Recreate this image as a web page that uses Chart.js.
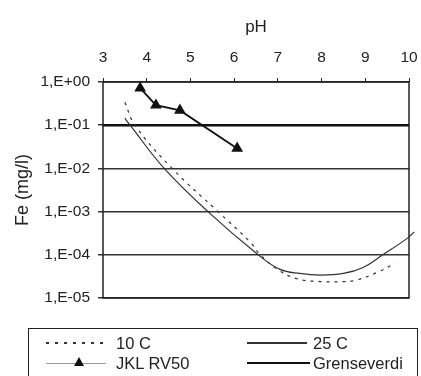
<!DOCTYPE html>
<html><head><meta charset="utf-8">
<script src="https://cdn.jsdelivr.net/npm/chart.js@4"></script>
<style>
html,body{margin:0;padding:0;background:#fff;}
#wrap{position:relative;width:421px;height:376px;overflow:hidden;}
#c{position:absolute;left:0;top:0;}
#legend{position:absolute;left:28px;top:328px;width:390px;height:60px;border:1.5px solid #222;box-sizing:border-box;font-family:"Liberation Sans",Arial,sans-serif;font-size:16.5px;color:#222;}
.lbl{position:absolute;line-height:20px;white-space:nowrap;}
.smp{position:absolute;width:60px;}
.tri{position:absolute;width:0;height:0;border-left:5px solid transparent;border-right:5px solid transparent;border-bottom:9px solid #111;}
</style></head>
<body>
<div id="wrap">
<canvas id="c" width="421" height="376"></canvas>
<div id="legend"></div>
</div>
<script>
// ---- data ----
const xTicks = [3, 4, 5, 6, 7, 8, 9, 10];
const yTicks = [1, 0.1, 0.01, 0.001, 0.0001, 0.00001];
const seriesNames = ['10 C', '25 C', 'JKL RV50', 'Grenseverdi'];
const xTitle = 'pH';
const yTitle = 'Fe (mg/l)';

const pH10 = [3.5, 3.73, 4.58, 5.63, 6.36, 6.6, 7.0, 7.43, 7.97, 8.5, 8.8, 9.27, 9.68];
const fe10 = [0.34, 0.1, 0.01, 0.001, 0.0002, 0.0001, 0.000045, 0.000028, 0.000024, 0.000024, 0.000026, 0.000039, 0.000063];

const pH25 = [3.5, 3.62, 4.4, 5.4, 6.55, 7.05, 7.5, 7.97, 8.5, 8.95, 9.4, 9.96, 10.12];
const fe25 = [0.145, 0.1, 0.01, 0.001, 0.0001, 0.000046, 0.000037, 0.000034, 0.000037, 0.000051, 0.0001, 0.00024, 0.00034];

const pHJKL = [3.85, 4.21, 4.76, 6.07];
const feJKL = [0.72, 0.29, 0.22, 0.029];

const pHLimit = [3, 10];
const feLimit = [0.1, 0.1];

const pts = (xs, ys) => xs.map((x, i) => ({x, y: ys[i]}));
const FONT = '"Liberation Sans", Arial, sans-serif';

const frame = {
  id: 'frame',
  beforeDatasetsDraw(chart) {
    const a = chart.chartArea, ctx = chart.ctx;
    ctx.save();
    ctx.strokeStyle = '#222';
    ctx.lineWidth = 1.5;
    ctx.strokeRect(a.left, a.top, a.right - a.left, a.bottom - a.top);
    ctx.restore();
  }
};

new Chart(document.getElementById('c'), {
  type: 'line',
  data: {
    datasets: [
      {label: seriesNames[0], data: pts(pH10, fe10), borderColor: '#333', borderWidth: 1.2, borderDash: [3, 5], pointRadius: 0, tension: 0.4, fill: false},
      {label: seriesNames[1], data: pts(pH25, fe25), borderColor: '#333', borderWidth: 1.2, pointRadius: 0, tension: 0.4, fill: false, clip: false},
      {label: seriesNames[2], data: pts(pHJKL, feJKL), borderColor: '#111', borderWidth: 1.8, pointStyle: 'triangle', pointRadius: 5, pointBackgroundColor: '#111', pointBorderColor: '#111', tension: 0, fill: false},
      {label: seriesNames[3], data: pts(pHLimit, feLimit), borderColor: '#111', borderWidth: 2.5, pointRadius: 0, tension: 0, fill: false}
    ]
  },
  options: {
    responsive: false,
    animation: false,
    events: [],
    layout: {padding: {left: 0, right: 0, top: 0, bottom: 78}},
    plugins: {legend: {display: false}, tooltip: {enabled: false}},
    scales: {
      x: {
        type: 'linear', position: 'top', min: 3, max: 10,
        afterBuildTicks: s => { s.ticks = xTicks.map(v => ({value: v})); },
        afterFit: s => { s.height = 82; s.paddingRight = 12; },
        ticks: {color: '#222', font: {family: FONT, size: 15.5}, padding: 11, maxRotation: 0},
        grid: {display: true, drawOnChartArea: false, tickLength: 4, color: '#222', lineWidth: 1},
        border: {display: false},
        title: {display: true, text: xTitle, color: '#222', font: {family: FONT, size: 17}, padding: {top: 17, bottom: 0}}
      },
      y: {
        type: 'logarithmic', min: 0.00001, max: 1,
        afterBuildTicks: s => { s.ticks = yTicks.map(v => ({value: v})); },
        afterFit: s => { s.width = 103; },
        ticks: {
          color: '#222', font: {family: FONT, size: 15.5}, padding: 8,
          callback: v => { const e = Math.round(Math.log10(v)); return '1,E' + (e >= 0 ? '+' : '-') + String(Math.abs(e)).padStart(2, '0'); }
        },
        grid: {color: '#333', lineWidth: 1.5, tickLength: 5},
        border: {display: false},
        title: {display: true, text: yTitle, color: '#222', font: {family: FONT, size: 18}, padding: {top: 12, bottom: 0}}
      }
    }
  },
  plugins: [frame]
});

// ---- legend (HTML text) ----
const lg = document.getElementById('legend');
const items = [
  {name: seriesNames[0], sx: 17, tx: 87, cy: 14, kind: 'dot'},
  {name: seriesNames[1], sx: 218, tx: 284, cy: 14, kind: 'thin'},
  {name: seriesNames[2], sx: 17, tx: 87, cy: 34, kind: 'tri'},
  {name: seriesNames[3], sx: 218, tx: 284, cy: 34, kind: 'thick'}
];
items.forEach(it => {
  const s = document.createElement('div');
  s.className = 'smp';
  let h = 1.3;
  if (it.kind === 'dot') { s.style.background = 'repeating-linear-gradient(to right,#333 0 3px,transparent 3px 9px)'; }
  if (it.kind === 'thin') { s.style.background = '#333'; }
  if (it.kind === 'thick') { h = 2.5; s.style.background = '#111'; s.style.width = '63px'; }
  if (it.kind === 'tri') { s.style.background = '#999'; h = 1; }
  s.style.height = h + 'px';
  s.style.left = it.sx + 'px';
  s.style.top = (it.cy - h / 2) + 'px';
  lg.appendChild(s);
  if (it.kind === 'tri') {
    const t = document.createElement('div');
    t.className = 'tri';
    t.style.left = (it.sx + 28) + 'px';
    t.style.top = (it.cy - 6) + 'px';
    lg.appendChild(t);
  }
  const l = document.createElement('div');
  l.className = 'lbl';
  l.textContent = it.name;
  l.style.left = it.tx + 'px';
  l.style.top = (it.cy - 10) + 'px';
  lg.appendChild(l);
});
</script>
</body></html>
